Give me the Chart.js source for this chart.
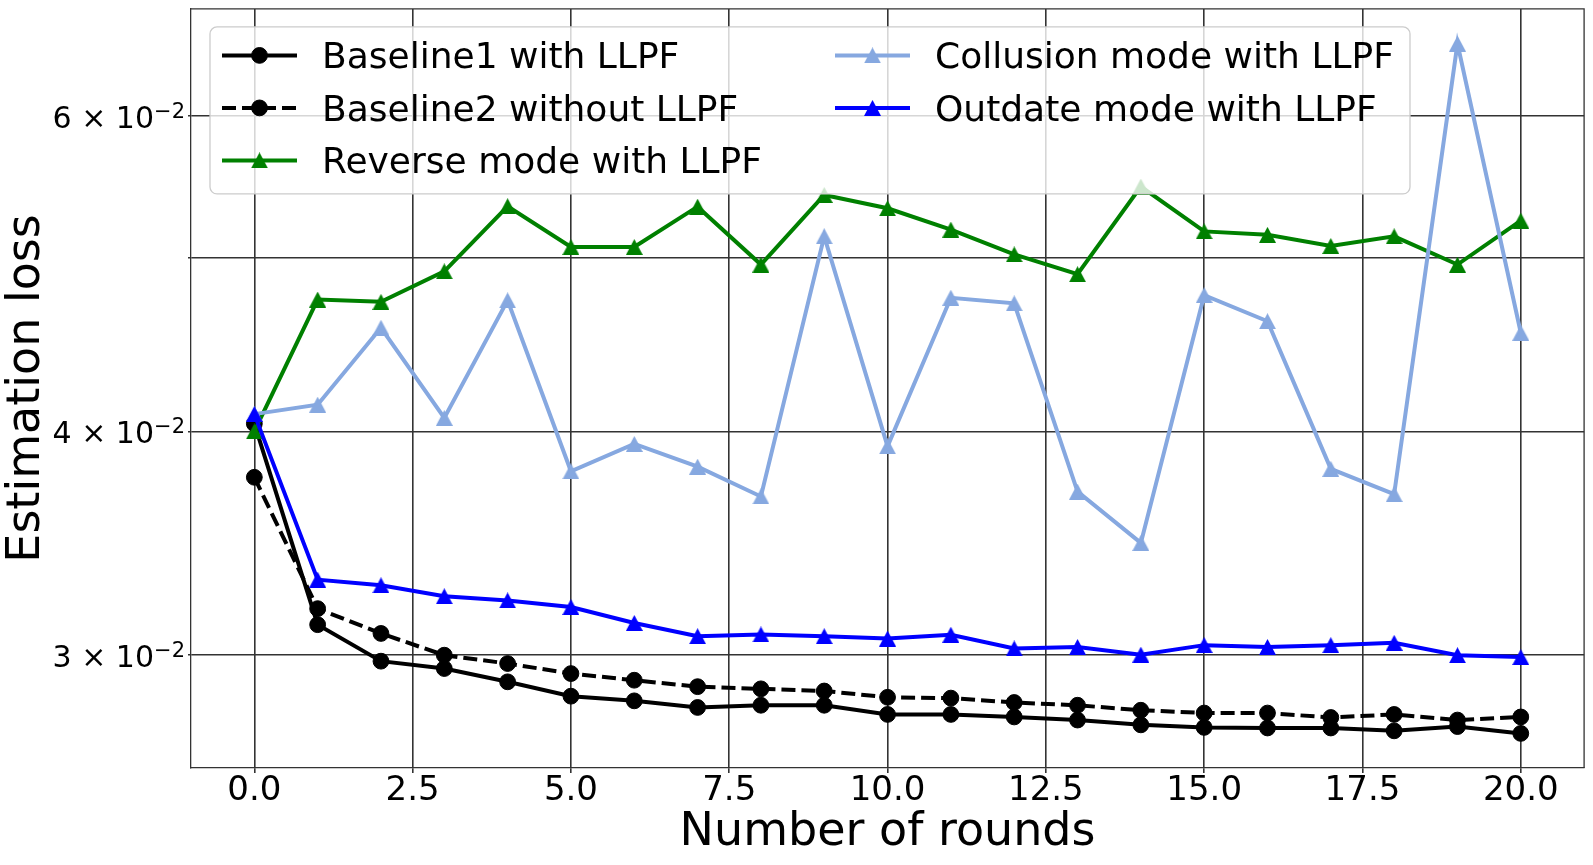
<!DOCTYPE html>
<html>
<head>
<meta charset="utf-8">
<script src="https://cdn.jsdelivr.net/npm/chart.js@4.4.1/dist/chart.umd.min.js"></script>
<style>
  html, body { margin: 0; padding: 0; background: #fff; }
  #wrap { width: 1593px; height: 865px; }
</style>
</head>
<body>
<div id="wrap"><canvas id="chart" width="1593" height="865"></canvas></div>
<script>
const rounds = [0, 1, 2, 3, 4, 5, 6, 7, 8, 9, 10, 11, 12, 13, 14, 15, 16, 17, 18, 19, 20];

const baseline1 = [0.0404, 0.0312, 0.02977, 0.02949, 0.02899, 0.02846, 0.02829, 0.02805, 0.02813, 0.02813, 0.0278,
    0.0278, 0.02771, 0.0276, 0.02743, 0.02734, 0.02732, 0.02732, 0.02722, 0.02737, 0.02713];
const baseline2 = [0.03771, 0.03185, 0.03085, 0.0300, 0.02968, 0.0293, 0.02905, 0.02881, 0.02873, 0.02865, 0.02842,
    0.02839, 0.02823, 0.02813, 0.02795, 0.02785, 0.02785, 0.02769, 0.0278, 0.0276, 0.02771];
const reverse = [0.0400, 0.04739, 0.04725, 0.04914, 0.05343, 0.0507, 0.0507, 0.0534, 0.04957, 0.05421, 0.05329,
    0.05185, 0.05022, 0.04896, 0.0548, 0.05173, 0.0515, 0.05077, 0.0514, 0.04957, 0.05245];
const collusion = [0.0409, 0.0414, 0.0457, 0.0407, 0.04734, 0.0380, 0.03936, 0.03823, 0.03679, 0.0514, 0.03924,
    0.0475, 0.04716, 0.03702, 0.03466, 0.04766, 0.04609, 0.03812, 0.0369, 0.06585, 0.04541];
const outdate = [0.0409, 0.03306, 0.03282, 0.03236, 0.03219, 0.03192, 0.03127, 0.03074, 0.03081, 0.03074, 0.03065,
    0.0308, 0.03026, 0.03032, 0.03002, 0.03039, 0.03032, 0.03039, 0.03048, 0.0300, 0.02993];

const xTicks = [0, 2.5, 5, 7.5, 10, 12.5, 15, 17.5, 20];
const yTicks = [0.03, 0.04, 0.05, 0.06];
const yTickMantissa = ['3', '4', '', '6'];
const yTickExponent = '\u22122';

const FONT = 'DejaVu Sans';
const LINE_W = 4;

function series(values) {
    return rounds.map((r, i) => ({ x: r, y: values[i] }));
}

// matplotlib '^' marker: centred on its bounding box, unlike chart.js 'triangle'
function makeTriangle(color) {
    const c = document.createElement('canvas');
    c.width = 17;
    c.height = 16;
    const g = c.getContext('2d');
    g.fillStyle = color;
    g.beginPath();
    g.moveTo(8.5, 0);
    g.lineTo(17, 16);
    g.lineTo(0, 16);
    g.closePath();
    g.fill();
    return c;
}

function lineSet(label, values, color, marker, order, dash) {
    return {
        label: label,
        data: series(values),
        borderColor: color,
        backgroundColor: color,
        borderWidth: LINE_W,
        borderDash: dash || [],
        pointStyle: marker === 'circle' ? 'circle' : makeTriangle(color),
        pointRadius: 7.9,
        pointHoverRadius: 7.9,
        pointBorderWidth: 1,
        pointBackgroundColor: color,
        pointBorderColor: color,
        tension: 0,
        fill: false,
        order: order
    };
}

const framePlugin = {
    id: 'frame',
    afterDatasetsDraw(chart) {
        const { ctx, chartArea: a } = chart;
        ctx.save();
        ctx.strokeStyle = '#333';
        ctx.lineWidth = 1.3;
        ctx.beginPath();
        ctx.moveTo(a.left, a.top);
        ctx.lineTo(a.right, a.top);
        ctx.lineTo(a.right, a.bottom);
        ctx.stroke();
        ctx.restore();
    }
};

const legendPlugin = {
    id: 'mplLegend',
    afterDatasetsDraw(chart) {
        const { ctx, chartArea: a } = chart;
        const bx = a.left + 19, by = a.top + 18, bw = 1200, bh = 167;
        ctx.save();
        ctx.beginPath();
        ctx.roundRect(bx, by, bw, bh, 7);
        ctx.fillStyle = 'rgba(255,255,255,0.8)';
        ctx.fill();
        ctx.strokeStyle = '#cccccc';
        ctx.lineWidth = 1.3;
        ctx.stroke();

        // legend follows dataset order, column-major, 3 rows
        chart.data.datasets.forEach((ds, i) => {
            const col = Math.floor(i / 3), row = i % 3;
            const hx = bx + 12 + col * 613;
            const hy = by + 28.5 + row * 52.5;
            ctx.strokeStyle = ds.borderColor;
            ctx.lineWidth = LINE_W;
            ctx.setLineDash(ds.borderDash);
            ctx.beginPath();
            ctx.moveTo(hx, hy);
            ctx.lineTo(hx + 75, hy);
            ctx.stroke();
            ctx.setLineDash([]);
            ctx.fillStyle = ds.pointBackgroundColor;
            ctx.lineWidth = 1;
            Chart.helpers.drawPoint(ctx, {
                pointStyle: ds.pointStyle, radius: ds.pointRadius, borderWidth: 1, rotation: 0
            }, hx + 37.5, hy);
            ctx.fillStyle = '#000';
            ctx.font = '36px "' + FONT + '"';
            ctx.textAlign = 'left';
            ctx.textBaseline = 'alphabetic';
            ctx.fillText(ds.label, hx + 100, hy + 13);
        });
        ctx.restore();
    }
};

const yLabelPlugin = {
    id: 'yLabels',
    afterDraw(chart) {
        const { ctx } = chart;
        const yScale = chart.scales.y;
        const right = yScale.right - 6;
        ctx.save();
        ctx.fillStyle = '#000';
        ctx.textAlign = 'right';
        ctx.textBaseline = 'alphabetic';
        yTicks.forEach((v, i) => {
            if (!yTickMantissa[i]) return;
            const py = yScale.getPixelForValue(v);
            ctx.font = '21px "' + FONT + '"';
            const supW = ctx.measureText(yTickExponent).width;
            ctx.fillText(yTickExponent, right, py + 2);
            ctx.font = '30px "' + FONT + '"';
            ctx.fillText(yTickMantissa[i] + ' \u00d7 10', right - supW, py + 12);
        });
        ctx.restore();
    }
};

new Chart(document.getElementById('chart'), {
    type: 'line',
    data: {
        datasets: [
            lineSet('Baseline1 with LLPF', baseline1, '#000000', 'circle', 5),
            lineSet('Baseline2 without LLPF', baseline2, '#000000', 'circle', 4, [14, 6]),
            lineSet('Reverse mode with LLPF', reverse, '#008000', 'triangle', 3),
            lineSet('Collusion mode with LLPF', collusion, '#86a8e0', 'triangle', 2),
            lineSet('Outdate mode with LLPF', outdate, '#0000ff', 'triangle', 1)
        ]
    },
    options: {
        responsive: false,
        animation: false,
        devicePixelRatio: 1,
        layout: { padding: { top: 7, right: 6, left: 0, bottom: 0 } },
        plugins: {
            legend: { display: false },
            tooltip: { enabled: false }
        },
        scales: {
            x: {
                type: 'linear',
                min: -1,
                max: 21,
                bounds: 'data',
                afterBuildTicks: s => { s.ticks = xTicks.map(v => ({ value: v })); },
                afterFit: s => { s.height = 97; },
                ticks: {
                    color: '#000',
                    font: { family: FONT, size: 34, lineHeight: 1 },
                    padding: 1,
                    maxRotation: 0,
                    autoSkip: false,
                    callback: v => Number(v).toFixed(1)
                },
                grid: { color: '#333', lineWidth: 1.6, tickLength: 5 },
                border: { color: '#333', width: 1.3 },
                title: {
                    display: true,
                    text: 'Number of rounds',
                    color: '#000',
                    font: { family: FONT, size: 46, lineHeight: 1.2 },
                    padding: { top: 0, bottom: 4 }
                }
            },
            y: {
                type: 'logarithmic',
                min: 0.02595,
                max: 0.06886,
                afterBuildTicks: s => { s.ticks = yTicks.map(v => ({ value: v })); },
                afterFit: s => { s.width = 191; },
                ticks: { display: false },
                grid: { color: '#333', lineWidth: 1.6, tickLength: 3 },
                border: { color: '#333', width: 1.3 },
                title: {
                    display: true,
                    text: 'Estimation loss',
                    color: '#000',
                    font: { family: FONT, size: 46, lineHeight: 1.165 },
                    padding: { top: 0, bottom: 0 }
                }
            }
        }
    },
    plugins: [framePlugin, legendPlugin, yLabelPlugin]
});
</script>
</body>
</html>
